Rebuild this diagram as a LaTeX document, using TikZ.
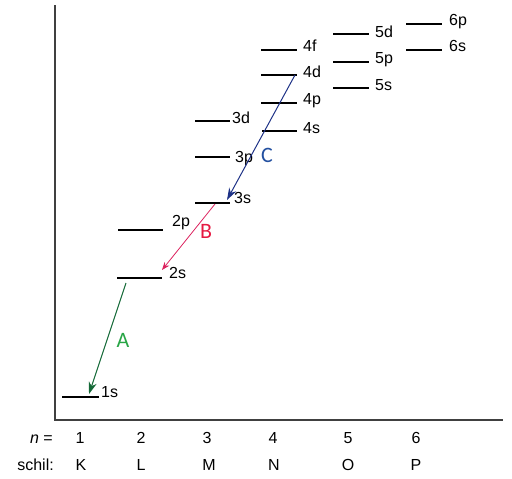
\documentclass[tikz,border=0pt]{standalone}
\usepackage{fontspec}
\setmainfont{Liberation Sans}
\newfontfamily\jumpfont{Carlito}
\usetikzlibrary{arrows.meta}

\definecolor{greenline}{RGB}{20,105,55}
\definecolor{greentext}{RGB}{40,165,70}
\definecolor{redline}{RGB}{220,35,95}
\definecolor{redtext}{RGB}{230,25,65}
\definecolor{blueline}{RGB}{30,50,135}
\definecolor{bluetext}{RGB}{35,80,160}

\begin{document}
\begin{tikzpicture}[x=1pt,y=-1pt,
  level/.style={line width=1.8pt},
  lbl/.style={anchor=base west,inner sep=0pt,font=\fontsize{16}{19}\selectfont},
  axlbl/.style={anchor=base,inner sep=0pt,font=\fontsize{16}{19}\selectfont},
  jump/.style={line width=1pt,-{Stealth[length=12pt,width=8pt]}},
  jumplbl/.style={inner sep=0pt,font=\jumpfont\fontsize{22}{26}\selectfont}]
  \useasboundingbox (0,0) rectangle (512,479);

  % axes
  \coordinate (top) at (55,5);
  \coordinate (origin) at (55,420);
  \coordinate (right) at (503,420);
  \draw[line width=1.2pt,black!75] (top) -- (origin) -- (right);

  % energy levels: name/x start/x end/y/label x/label baseline
  \foreach \nm/\xa/\xb/\y/\lx/\ly in {
      1s/62/99/397/101/397, 2s/117/162/278/169/278, 2p/118/163/230/172/226,
      3s/195/230/203/234/203, 3p/195/230/157/235/162, 3d/195/230/121/232/123,
      4s/262/297/131/303/133, 4p/261/297/103/303/104, 4d/261/297/75/303/77,
      4f/261/297/50/303/52, 5s/333/369/88/375/90, 5p/333/369/62/375/63,
      5d/333/369/34/375/37, 6s/406/442/50/449/51, 6p/406/442/24/449/25}{
    \draw[level] (\xa,\y) coordinate (\nm-l) -- (\xb,\y) coordinate (\nm-r);
    \node[lbl] (\nm) at (\lx,\ly) {\nm};
  }

  % transitions
  \coordinate (A-from) at (126,283);
  \coordinate (A-to) at (89,394);
  \coordinate (B-from) at (215,204);
  \coordinate (B-to) at (162,270);
  \coordinate (C-from) at (295,75);
  \coordinate (C-to) at (227,200);
  \draw[jump,greenline] (A-from) -- (A-to);
  \draw[line width=0.8pt,redline,-{Stealth[length=8pt,width=6pt]}] (B-from) -- (B-to);
  \draw[jump,blueline] (C-from) -- (C-to);
  \node[jumplbl,greentext] (A) at (123,340) {A};
  \node[jumplbl,redtext] (B) at (206,231) {B};
  \node[jumplbl,bluetext] (C) at (267,155) {C};

  % shell numbers and letters
  \node[anchor=base east,inner sep=0pt,font=\fontsize{16}{19}\selectfont] (nlbl) at (53,443) {\textit{n} =};
  \node[anchor=base east,inner sep=0pt,font=\fontsize{16}{19}\selectfont] (schil) at (54,470) {schil:};
  \foreach \num/\xn/\sh/\xs in {1/80/K/81, 2/141/L/141, 3/207/M/209,
      4/273/N/274, 5/348/O/348, 6/416/P/416}{
    \node[axlbl] (n\num) at (\xn,443) {\num};
    \node[axlbl] (s\num) at (\xs,470) {\sh};
  }
\end{tikzpicture}
\end{document}
